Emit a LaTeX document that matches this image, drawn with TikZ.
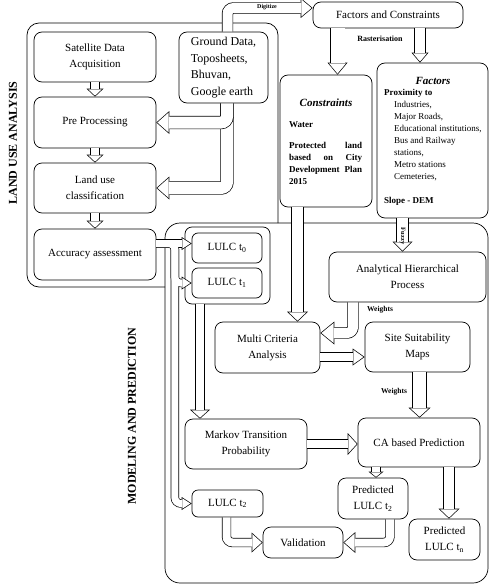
\documentclass[tikz,border=0pt]{standalone}
\usepackage{fontspec}
\setmainfont{Liberation Serif}
\usetikzlibrary{arrows.meta,calc}
\newcommand\hwline{0.7}
\newcommand\harrowblack[4]{%
  \pgfmathsetmacro\hWo{#1+2*\hwline}%
  \draw[black, rounded corners=6pt, line width=\hWo pt, -{Triangle[length=#3pt, width=#2pt, line width=0pt]}] #4;}
\newcommand\harrowwhite[4]{%
  \pgfmathsetmacro\hTan{(#2/2)/#3}%
  \pgfmathsetmacro\hD{\hwline*sqrt(1+1/(\hTan*\hTan))}%
  \pgfmathsetmacro\hLi{#3-\hwline-\hD}%
  \pgfmathsetmacro\hHi{#2*\hLi/#3}%
  \draw[white, rounded corners=6pt, line width=#1pt, shorten >=\hD pt, -{Triangle[length=\hLi pt, width=\hHi pt, line width=0pt]}] #4;}
\newcommand\harrow[4]{\harrowblack{#1}{#2}{#3}{#4}\harrowwhite{#1}{#2}{#3}{#4}}
\begin{document}
\begin{tikzpicture}[x=1pt,y=-1pt,
  box/.style={draw, line width=0.7pt, rounded corners=8pt, inner sep=0pt, align=center,
    font=\fontsize{11}{16}\selectfont},
  group/.style={draw, line width=0.7pt, inner sep=0pt},
  lbl/.style={inner sep=0pt, font=\bfseries\fontsize{7.5}{9}\selectfont},
  side/.style={inner sep=0pt, rotate=90, font=\bfseries\fontsize{12}{14}\selectfont}]
\useasboundingbox (0,0) rectangle (490,586);

% group outlines
\draw[line width=0.7pt, rounded corners=12pt] (165,287) -- (27,287) -- (27,23) -- (278,23) -- (278,223);
\node[group, rounded corners=15pt, minimum width=323pt, minimum height=360pt] (modbox) at (326.5,403) {};
\node[group, rounded corners=7pt, minimum width=85pt, minimum height=77pt] (grp) at (227.5,265.5) {};

% land use analysis
\node[box, minimum width=122pt, minimum height=50pt] (sat) at (95,57) {Satellite Data\\Acquisition};
\node[box, minimum width=122pt, minimum height=51pt] (pre) at (95,122.5) {Pre Processing};
\node[box, minimum width=122pt, minimum height=50pt] (luc) at (95,188) {Land use\\classification};
\node[box, minimum width=122pt, minimum height=51pt] (acc) at (95,254.5) {Accuracy assessment};
\node[box, align=left, font=\fontsize{12}{16.5}\selectfont, minimum width=89pt, minimum height=71pt] (ground) at (223.5,67.5) {Ground Data,\\Toposheets,\\Bhuvan,\\Google earth};

% factors and constraints
\node[box, minimum width=150pt, minimum height=26pt] (fc) at (388,15) {Factors and Constraints};
\node[box, minimum width=92pt, minimum height=132pt] (cons) at (326,141) {};
\node[inner sep=0pt, font=\bfseries\itshape\fontsize{11}{13}\selectfont] (constitle) at (326,103) {Constraints};
\node[anchor=base west, inner sep=0pt, font=\bfseries\fontsize{9}{12}\selectfont] (water) at (289,127) {Water};
\node[anchor=north west, align=left, inner sep=0pt, font=\bfseries\fontsize{9}{12}\selectfont] (consbody) at (289,142)
  {\makebox[73pt][s]{Protected land}\\\makebox[73pt][s]{based on City}\\\makebox[73pt][s]{Development Plan}\\2015};
\node[box, minimum width=111pt, minimum height=155pt] (fact) at (432.5,140.5) {};
\node[inner sep=0pt, font=\bfseries\itshape\fontsize{11}{13}\selectfont] (facttitle) at (433,81) {Factors};
\node[anchor=north west, align=left, inner sep=0pt, font=\fontsize{9}{12}\selectfont] (factbody) at (384,89)
  {\textbf{Proximity to}\\\hspace*{10pt}Industries,\\\hspace*{10pt}Major Roads,\\\hspace*{10pt}Educational institutions,\\\hspace*{10pt}Bus and Railway\\\hspace*{10pt}stations,\\\hspace*{10pt}Metro stations\\\hspace*{10pt}Cemeteries,\\[12pt]\textbf{Slope - DEM}};

% modeling and prediction
\node[box, rounded corners=6pt, minimum width=70pt, minimum height=30pt] (t0) at (227,248) {LULC t\textsubscript{0}};
\node[box, rounded corners=6pt, minimum width=70pt, minimum height=30pt] (t1) at (227,283) {LULC t\textsubscript{1}};
\node[box, minimum width=105pt, minimum height=51pt] (mca) at (267.5,347.5) {Multi Criteria\\Analysis};
\node[box, minimum width=157pt, minimum height=50pt] (ahp) at (407.5,277) {Analytical Hierarchical\\Process};
\node[box, minimum width=105pt, minimum height=50pt] (ssm) at (417.5,347) {Site Suitability\\Maps};
\node[box, minimum width=122pt, minimum height=50pt] (markov) at (246,444) {Markov Transition\\Probability};
\node[box, minimum width=122pt, minimum height=49pt] (ca) at (419,442.5) {CA based Prediction};
\node[box, rounded corners=6pt, minimum width=71pt, minimum height=27pt] (t2) at (227.5,503.5) {LULC t\textsubscript{2}};
\node[box, minimum width=70pt, minimum height=41pt] (pt2) at (373,498.5) {Predicted\\LULC t\textsubscript{2}};
\node[box, minimum width=71pt, minimum height=41pt] (ptn) at (444.5,539.5) {Predicted\\LULC t\textsubscript{n}};
\node[box, minimum width=80pt, minimum height=31pt] (val) at (303,542.5) {Validation};

% helper coordinates
\coordinate (a1) at ([xshift=-50.5pt]fc.south);
\coordinate (a2) at ([xshift=32pt]fc.south);
\coordinate (a3) at ([xshift=-30pt]fact.south);
\coordinate (a4) at ([xshift=-28.5pt]cons.south);
\coordinate (a5) at ([xshift=-54.5pt]ahp.south);
\coordinate (a6) at ([yshift=-9.5pt]mca.east);
\coordinate (a7) at ([xshift=2pt]ssm.south);
\coordinate (a8) at ([xshift=3pt]pt2.north);
\coordinate (a9) at ([xshift=4.5pt]ptn.north);
\coordinate (a10) at ([xshift=17pt]pt2.south);
\coordinate (a11) at ([xshift=-1pt]t2.south);
\coordinate (a12) at ([xshift=-46pt]markov.north);
\coordinate (a13) at ([yshift=11pt]acc.east);
\coordinate (a14) at ([xshift=18.5pt]a13);
\coordinate (a15) at ([yshift=14.5pt]mca.east);
\coordinate (g1) at ([xshift=3.5pt]ground.south);
\coordinate (g2) at ([xshift=4pt]ground.north);
\coordinate (f1) at ([yshift=7pt]fc.west);

% arrows
\harrow{8}{17}{8}{(sat.south) -- (pre.north)}
\harrow{8}{17}{8}{(pre.south) -- (luc.north)}
\harrow{8}{17}{8}{(luc.south) -- (acc.north)}
\harrow{12}{23}{13}{(g1) |- (luc.east)}
\harrow{12}{23}{13}{(g1) |- (pre.east)}
\harrow{10}{20}{12}{(g2) |- (f1)}
\harrow{14}{20}{12}{(a1) -- (a1 |- cons.north)}
\harrow{10}{17}{10}{(a2) -- (a2 |- fact.north)}
\harrow{11}{20}{10}{(a3) -- (a3 |- ahp.north)}
\harrow{11}{21}{10}{(a4) -- (a4 |- mca.north)}
\harrow{10}{23}{14}{(a5) |- (a15)}
\harrow{8}{17}{12}{(a6) -- (a6 -| ssm.west)}
\harrow{13}{22}{10}{(a7) -- (a7 |- ca.north)}
\harrow{8}{22}{10}{(markov.east) -- (markov.east -| ca.west)}
\harrow{8}{15}{6}{(a8 |- ca.south) -- (a8)}
\harrow{10}{21}{10}{(a9 |- ca.south) -- (a9)}
\harrow{8}{21}{12}{(a10) |- (val.east)}
\harrow{8}{20}{11}{(a11) |- (val.west)}
\harrow{8}{20}{9}{(a12 |- grp.south) -- (a12)}
% merged arrows from accuracy assessment
\harrowblack{7}{13}{10}{(a13) -- (a14) |- (t2.west)}
\harrowblack{7}{13}{10}{(a13) -- (a14) |- (t1.west)}
\harrowblack{7}{13}{10}{(a13) -- (a13 -| t0.west)}
\harrowwhite{7}{13}{10}{(a13) -- (a14) |- (t2.west)}
\harrowwhite{7}{13}{10}{(a13) -- (a14) |- (t1.west)}
\harrowwhite{7}{13}{10}{(a13) -- (a13 -| t0.west)}

% labels
\node[lbl, font=\bfseries\fontsize{6}{7}\selectfont] (dig) at (267,7.5) {Digitize};
\node[lbl, font=\bfseries\fontsize{8}{9}\selectfont] (ras) at (380,39) {Rasterisation};
\node[lbl, rotate=-90, font=\bfseries\fontsize{6.5}{8}\selectfont] (fz) at (402.5,236) {Fuzzy};
\node[lbl] (w1) at (380,310) {Weights};
\node[lbl] (w2) at (394,392) {Weights};
\node[side] (lua) at (13,143) {LAND USE ANALYSIS};
\node[side] (mp) at (132,416) {MODELING AND PREDICTION};
\end{tikzpicture}
\end{document}
